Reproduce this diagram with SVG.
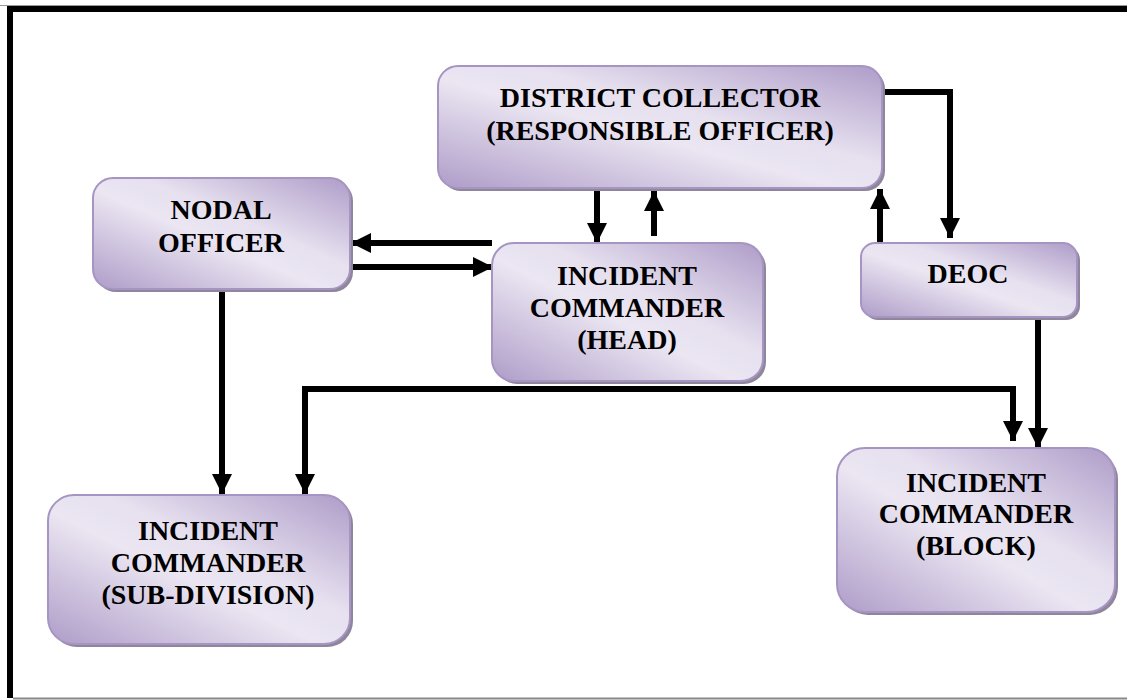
<svg xmlns="http://www.w3.org/2000/svg" width="1127" height="700" viewBox="0 0 1127 700">
  <style>
    .box { fill: url(#lav); stroke: #a695c2; stroke-width: 2; }
    .shadow { fill: #8f869c; }
    .lbl { font-family: "Liberation Serif", "Times New Roman", serif; font-weight: bold; font-size: 28px; fill: #000; text-anchor: middle; }
    .wire { fill: none; stroke: #000; stroke-width: 6; stroke-linejoin: miter; }
  </style>
  <defs>
    <linearGradient id="lav" x1="0" y1="1" x2="1" y2="0">
      <stop offset="0" stop-color="#ae9cc8"/>
      <stop offset="0.45" stop-color="#ebe6f2"/>
      <stop offset="0.6" stop-color="#e6e0ef"/>
      <stop offset="1" stop-color="#ae9cc8"/>
    </linearGradient>
    <marker id="head" markerUnits="userSpaceOnUse" markerWidth="20" markerHeight="20" viewBox="0 0 20 20" refX="20" refY="10" orient="auto">
      <path d="M0,0 L20,10 L0,20 Z" fill="#000"/>
    </marker>
    <marker id="tail" markerUnits="userSpaceOnUse" markerWidth="20" markerHeight="20" viewBox="0 0 20 20" refX="0" refY="10" orient="auto">
      <path d="M20,0 L0,10 L20,20 Z" fill="#000"/>
    </marker>
  </defs>

  <rect width="1127" height="700" fill="#fff"/>

  <!-- page frame -->
  <g id="frame">
    <line x1="0" y1="5.5" x2="1127" y2="5.5" stroke="#999" stroke-width="1"/>
    <rect x="7" y="6" width="1120" height="6" fill="#000"/>
    <rect x="7" y="6" width="6" height="692" fill="#000"/>
    <line x1="13" y1="698.5" x2="1127" y2="698.5" stroke="#888" stroke-width="2"/>
  </g>

  <!-- connectors -->
  <g id="connectors">
    <!-- collector -> head -->
    <line class="wire" x1="597" y1="190" x2="597" y2="243" marker-end="url(#head)"/>
    <!-- head -> collector -->
    <line class="wire" x1="654" y1="236" x2="654" y2="191" marker-end="url(#head)"/>
    <!-- head -> nodal -->
    <line class="wire" x1="492" y1="243" x2="351" y2="243" marker-end="url(#head)"/>
    <!-- nodal -> head -->
    <line class="wire" x1="350" y1="267" x2="493" y2="267" marker-end="url(#head)"/>
    <!-- nodal -> sub-division -->
    <line class="wire" x1="222" y1="290" x2="222" y2="494" marker-end="url(#head)"/>
    <!-- sub-division <-> block -->
    <path class="wire" d="M305,494 V389 H1013 V441" marker-start="url(#tail)" marker-end="url(#head)"/>
    <!-- collector -> deoc -->
    <path class="wire" d="M882,92 H950 V238" marker-end="url(#head)"/>
    <!-- deoc -> collector -->
    <line class="wire" x1="880" y1="243" x2="880" y2="189" marker-end="url(#head)"/>
    <!-- deoc -> block -->
    <line class="wire" x1="1038" y1="318" x2="1038" y2="448" marker-end="url(#head)"/>
  </g>

  <g id="collector">
    <rect class="shadow" x="441" y="69" width="444" height="122" rx="20"/>
    <rect class="box" x="438" y="66" width="444" height="122" rx="20"/>
    <text class="lbl" x="660" y="107">DISTRICT COLLECTOR</text>
    <text class="lbl" x="660" y="140">(RESPONSIBLE OFFICER)</text>
  </g>

  <g id="nodal">
    <rect class="shadow" x="96" y="181" width="257" height="111" rx="20"/>
    <rect class="box" x="93" y="178" width="257" height="111" rx="20"/>
    <text class="lbl" x="221" y="219">NODAL</text>
    <text class="lbl" x="221" y="252">OFFICER</text>
  </g>

  <g id="head-commander">
    <rect class="shadow" x="495" y="246" width="271" height="138" rx="22"/>
    <rect class="box" x="492" y="243" width="271" height="138" rx="22"/>
    <text class="lbl" x="627" y="285">INCIDENT</text>
    <text class="lbl" x="627" y="317">COMMANDER</text>
    <text class="lbl" x="627" y="349">(HEAD)</text>
  </g>

  <g id="deoc">
    <rect class="shadow" x="864" y="246" width="216" height="74" rx="14"/>
    <rect class="box" x="861" y="243" width="216" height="74" rx="14"/>
    <text class="lbl" x="968" y="283">DEOC</text>
  </g>

  <g id="subdivision">
    <rect class="shadow" x="51" y="498" width="302" height="149" rx="26"/>
    <rect class="box" x="48" y="495" width="302" height="149" rx="26"/>
    <text class="lbl" x="208" y="540">INCIDENT</text>
    <text class="lbl" x="208" y="572">COMMANDER</text>
    <text class="lbl" x="208" y="604">(SUB-DIVISION)</text>
  </g>

  <g id="block">
    <rect class="shadow" x="840" y="451" width="278" height="164" rx="28"/>
    <rect class="box" x="837" y="448" width="278" height="164" rx="28"/>
    <text class="lbl" x="976" y="492">INCIDENT</text>
    <text class="lbl" x="976" y="523">COMMANDER</text>
    <text class="lbl" x="976" y="555">(BLOCK)</text>
  </g>
</svg>
